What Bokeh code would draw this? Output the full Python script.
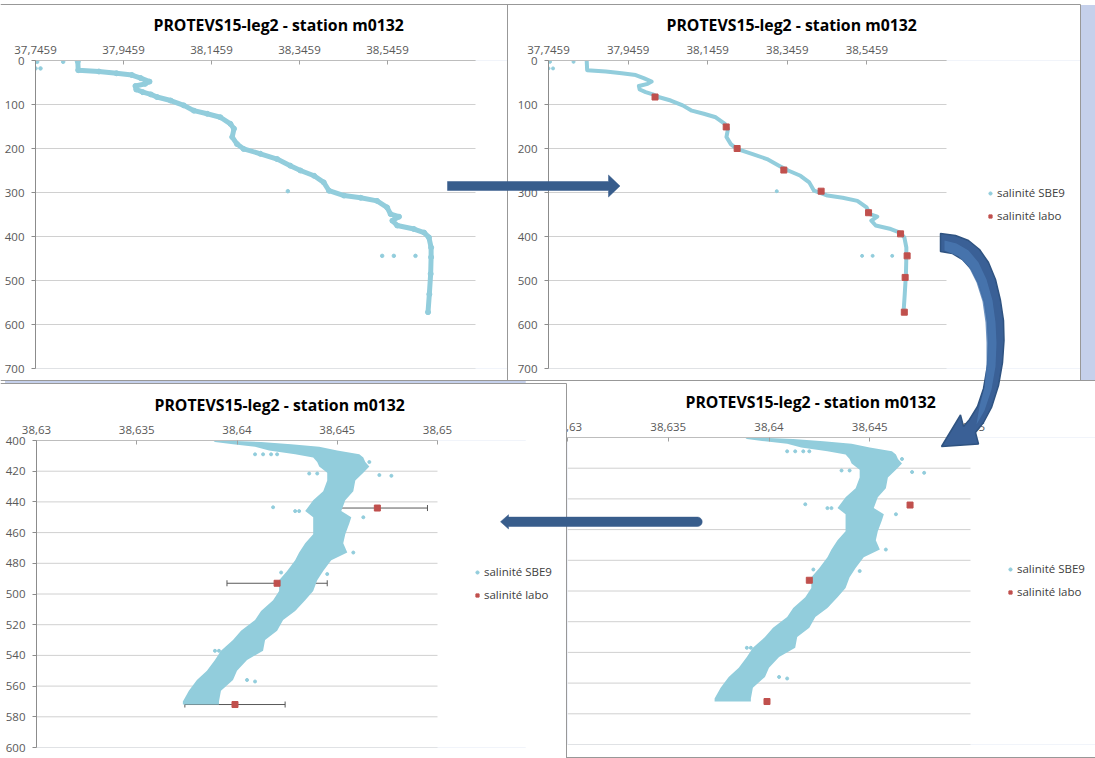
import numpy as np
from bokeh.plotting import figure
from bokeh.models import (Range1d, FixedTicker, CustomJSTickFormatter, Legend, LegendItem,
                          Whisker, TeeHead, ColumnDataSource, Div)
from bokeh.embed import file_html
from bokeh.resources import INLINE

# ------------------------------------------------------------------ data
TITLE = "PROTEVS15-leg2 - station m0132"
SBE9_LABEL = "salinité SBE9"
LABO_LABEL = "salinité labo"

# full CTD profile (top panels): depth (m) / salinity
PROFILE_DEPTH = [2, 22, 25, 29, 33, 40, 48, 53, 58, 66,
                 72, 77, 83, 91, 102, 114, 121, 129, 144, 155,
                 174, 190, 201, 212, 224, 239, 250, 262, 277, 296,
                 307, 312, 319, 334, 349, 355, 364, 375, 383, 391,
                 402, 425, 447, 485, 531, 572]
PROFILE_SAL = [37.842, 37.843, 37.890, 37.930, 37.965, 37.985, 38.005, 37.995, 37.973, 37.975,
               37.990, 38.008, 38.022, 38.053, 38.083, 38.106, 38.136, 38.166, 38.189, 38.197,
               38.193, 38.204, 38.219, 38.257, 38.295, 38.325, 38.348, 38.379, 38.401, 38.413,
               38.447, 38.485, 38.522, 38.545, 38.553, 38.572, 38.557, 38.568, 38.606, 38.629,
               38.640, 38.645, 38.645, 38.644, 38.641, 38.638]
PROFILE_OUT_DEPTH = [3, 3, 18, 18, 297, 444, 444, 444]
PROFILE_OUT_SAL = [37.7497, 37.8088, 37.7459, 37.7573, 38.3194, 38.5338, 38.5603, 38.6095]

# bottle (lab) salinities
LAB_DEPTH = [83, 151, 200, 249, 297, 346, 394, 444, 493, 572]
LAB_SAL = [38.0136, 38.1924, 38.2199, 38.3372, 38.4309, 38.5501, 38.6305, 38.6470, 38.6420, 38.6399]
LAB_ERR = [0.0025, 0.0025, 0.0025, 0.0025, 0.0025, 0.0025, 0.0025, 0.0025, 0.0025, 0.0025]

# zoomed 400-600 m: envelope of the dense SBE9 point cloud
CLOUD_DEPTH = [400, 401, 402.5, 404, 406.5, 409, 411, 414, 417, 421,
               426, 433, 439, 446, 450, 454, 461, 467, 473, 478,
               485, 491, 498, 504, 511, 517, 524, 530, 537, 543,
               550, 556, 563, 570, 572]
CLOUD_MIN = [38.6388, 38.6389, 38.6398, 38.6409, 38.6416, 38.6429, 38.6438, 38.6440, 38.6441, 38.6445,
             38.6445, 38.6443, 38.6438, 38.6434, 38.6438, 38.6438, 38.6438, 38.6434, 38.6431, 38.6429,
             38.6425, 38.6421, 38.6421, 38.6418, 38.6412, 38.6409, 38.6402, 38.6398, 38.6392, 38.6389,
             38.6385, 38.6380, 38.6376, 38.6373, 38.6373]
CLOUD_MAX = [38.6392, 38.6412, 38.6427, 38.6441, 38.6450, 38.6461, 38.6463, 38.6464, 38.6466, 38.6463,
             38.6459, 38.6458, 38.6454, 38.6452, 38.6457, 38.6456, 38.6454, 38.6453, 38.6455, 38.6447,
             38.6443, 38.6440, 38.6438, 38.6434, 38.6429, 38.6423, 38.6420, 38.6414, 38.6413, 38.6405,
             38.6400, 38.6398, 38.6392, 38.6391, 38.6391]
CLOUD_OUT_DEPTH = [443.5, 422.5, 423, 409, 409, 409, 409, 421.5, 421.5, 450,
                   486, 487, 494, 556, 557, 537, 537, 509, 473, 414, 446, 446]
CLOUD_OUT_SAL = [38.6418, 38.6471, 38.6477, 38.6409, 38.6413, 38.6417, 38.6420, 38.6436, 38.6440, 38.6463,
                 38.6422, 38.6445, 38.6436, 38.6405, 38.6409, 38.6389, 38.6391, 38.6429, 38.6458, 38.6466,
                 38.6429, 38.6431]

# axes
TOP_X_RANGE = (37.7459, 38.7459)
TOP_Y_RANGE = (700, 0)
TOP_X_TICKS = [37.7459, 37.9459, 38.1459, 38.3459, 38.5459]
TOP_X_LABELS = ["37,7459", "37,9459", "38,1459", "38,3459", "38,5459"]
TOP_Y_TICKS = [0, 100, 200, 300, 400, 500, 600, 700]
ZOOM_X_RANGE = (38.63, 38.65)
ZOOM_Y_RANGE = (600, 400)
ZOOM_X_TICKS = [38.63, 38.635, 38.64, 38.645, 38.65]
ZOOM_X_LABELS = ["38,63", "38,635", "38,64", "38,645", "38,65"]
ZOOM_Y_TICKS = [400, 420, 440, 460, 480, 500, 520, 540, 560, 580, 600]

# ------------------------------------------------------------------ style
SBE9_COLOR = "#92CDDC"
LABO_COLOR = "#C0504D"
LAVENDER = "#C5D0EB"
BORDER = "#989898"
GRID = "#D0D0D0"
ARROW = "#385D8C"
FONT = "Open Sans"

PAGE_W, PAGE_H = 1095, 758


def place(L, T, W, H):
    return {"position": "absolute", "left": f"{L}px", "top": f"{T}px",
            "width": f"{W}px", "height": f"{H}px"}


def tick_formatter(vals, labs):
    return CustomJSTickFormatter(args=dict(tvals=vals, tlabs=labs), code="""
        let best = 0, d = Infinity;
        for (let i = 0; i < tvals.length; i++) {
            const e = Math.abs(tvals[i] - tick);
            if (e < d) { d = e; best = i; }
        }
        return tlabs[best];
    """)


def panel(box, frame, xr, yr, xticks, xlabels, yticks, show_y=True):
    """Chart box (page px) with its plot area; the frame is stretched to the
    right edge of the box so that the legend can sit beside the plot area."""
    L, T, R, B = box
    fl, ft, fr, fb = frame
    W, H = R - L, B - T
    x_end = xr[1] + (R - fr) * (xr[1] - xr[0]) / (fr - fl)
    p = figure(width=W, height=H, output_backend="svg", toolbar_location=None,
               x_range=Range1d(xr[0], x_end), y_range=Range1d(*yr),
               x_axis_location="above", y_axis_location="left" if show_y else None,
               min_border_left=round(fl - L), min_border_right=0,
               min_border_top=round(ft - T), min_border_bottom=round(B - fb),
               background_fill_color="white", border_fill_color="white",
               outline_line_color=None, styles=place(L, T, W, H))
    p.title.text = TITLE
    p.title.align = "left"
    p.title.offset = 118
    p.title.text_font = FONT
    p.title.text_font_style = "bold"
    p.title.text_font_size = "15.8px"
    p.title.text_color = "#000000"
    p.title.standoff = 14

    xa = p.xaxis[0]
    xa.bounds = (xr[0], xr[1])
    xa.ticker = FixedTicker(ticks=xticks)
    xa.formatter = tick_formatter(xticks, xlabels)
    xa.major_tick_in = 4
    xa.major_tick_out = 0
    xa.minor_tick_line_color = None
    xa.axis_line_color = "#BDBDBD"
    xa.major_tick_line_color = "#A0A0A0"
    xa.major_label_standoff = 7
    xa.major_label_text_font = FONT
    xa.major_label_text_font_size = "11.5px"
    xa.major_label_text_color = "#595959"

    if show_y:
        ya = p.yaxis[0]
        ya.ticker = FixedTicker(ticks=yticks)
        ya.major_tick_in = 0
        ya.major_tick_out = 4
        ya.minor_tick_line_color = None
        ya.axis_line_color = "#8C8C8C"
        ya.major_tick_line_color = "#8C8C8C"
        ya.major_label_standoff = 7
        ya.major_label_text_font = FONT
        ya.major_label_text_font_size = "11.5px"
        ya.major_label_text_color = "#595959"

    p.grid.visible = False
    # horizontal gridlines limited to the plot area
    p.segment(x0=[xr[0]] * len(yticks), y0=yticks, x1=[xr[1]] * len(yticks), y1=yticks,
              line_color=GRID, line_width=1)
    return p


def add_legend(p, r_sbe, r_lab, xoff, yoff):
    # location measured from the plot area's lower-left corner
    lg = Legend(items=[LegendItem(label=SBE9_LABEL, renderers=[r_sbe]),
                       LegendItem(label=LABO_LABEL, renderers=[r_lab])],
                location=(round(xoff), round(yoff)), orientation="vertical",
                border_line_color=None, background_fill_alpha=0, padding=0, margin=0,
                spacing=8, glyph_width=8, glyph_height=12, label_height=12, label_standoff=3,
                label_text_font=FONT, label_text_font_size="11.5px", label_text_color="#404040")
    p.add_layout(lg)


deep = [i for i, d in enumerate(LAB_DEPTH) if d >= 400]
DEEP_DEPTH = [LAB_DEPTH[i] for i in deep]
DEEP_SAL = [LAB_SAL[i] for i in deep]

# ---------------- background
bg = Div(text="", width=PAGE_W, height=PAGE_H,
         styles=dict(place(0, 0, PAGE_W, PAGE_H), **{"background-color": LAVENDER}))

# ---------------- panel 1 (top-left): full profile
p1 = panel((0, 4, 507, 380), (35, 60, 475, 368), TOP_X_RANGE, TOP_Y_RANGE,
           TOP_X_TICKS, TOP_X_LABELS, TOP_Y_TICKS)
p1.line(PROFILE_SAL, PROFILE_DEPTH, line_width=5, color=SBE9_COLOR, line_join="round", line_cap="round")
p1.scatter(PROFILE_SAL, PROFILE_DEPTH, size=5, color=SBE9_COLOR)
p1.scatter(PROFILE_OUT_SAL, PROFILE_OUT_DEPTH, size=3.5, color=SBE9_COLOR)

# ---------------- panel 2 (top-right): profile + lab
p2 = panel((507, 4, 1080, 380), (548, 60, 946, 368), TOP_X_RANGE, TOP_Y_RANGE,
           TOP_X_TICKS, TOP_X_LABELS, TOP_Y_TICKS)
p2.line(PROFILE_SAL, PROFILE_DEPTH, line_width=4, color=SBE9_COLOR, line_join="round", line_cap="round")
r2s = p2.scatter(PROFILE_OUT_SAL, PROFILE_OUT_DEPTH, size=3, color=SBE9_COLOR)
r2l = p2.scatter(LAB_SAL, LAB_DEPTH, marker="square", size=6, color=LABO_COLOR)
add_legend(p2, r2s, r2l, 438, 145)

# ---------------- panel 3 (bottom-left): zoom with error bars
p3 = panel((0, 383, 566, 758), (36, 440, 437, 747), ZOOM_X_RANGE, ZOOM_Y_RANGE,
           ZOOM_X_TICKS, ZOOM_X_LABELS, ZOOM_Y_TICKS)
wsrc = ColumnDataSource(dict(base=DEEP_DEPTH,
                             lower=[LAB_SAL[i] - LAB_ERR[i] for i in deep],
                             upper=[LAB_SAL[i] + LAB_ERR[i] for i in deep]))
p3.add_layout(Whisker(source=wsrc, base="base", lower="lower", upper="upper", dimension="width",
                      line_color="#595959", line_width=1,
                      lower_head=TeeHead(size=6, line_color="#595959", line_width=1),
                      upper_head=TeeHead(size=6, line_color="#595959", line_width=1)))
p3.harea(x1=CLOUD_MIN, x2=CLOUD_MAX, y=CLOUD_DEPTH, fill_color=SBE9_COLOR)
r3s = p3.scatter(CLOUD_OUT_SAL, CLOUD_OUT_DEPTH, size=3, color=SBE9_COLOR)
r3l = p3.scatter(DEEP_SAL, DEEP_DEPTH, marker="square", size=6, color=LABO_COLOR)
add_legend(p3, r3s, r3l, 437, 145)

# ---------------- panel 4 (bottom-right): zoom, no error bars
p4 = panel((525, 380, 1095, 758), (567, 437, 970, 744), ZOOM_X_RANGE, ZOOM_Y_RANGE,
           ZOOM_X_TICKS, ZOOM_X_LABELS, ZOOM_Y_TICKS, show_y=False)
p4.harea(x1=CLOUD_MIN, x2=CLOUD_MAX, y=CLOUD_DEPTH, fill_color=SBE9_COLOR)
r4s = p4.scatter(CLOUD_OUT_SAL, CLOUD_OUT_DEPTH, size=3, color=SBE9_COLOR)
r4l = p4.scatter(DEEP_SAL, DEEP_DEPTH, marker="square", size=6, color=LABO_COLOR)
add_legend(p4, r4s, r4l, 439, 145)

# ---------------- overlay: panel frames and block arrows (page pixel space)
ov = figure(width=PAGE_W, height=PAGE_H, output_backend="svg", toolbar_location=None,
            x_range=Range1d(0, PAGE_W), y_range=Range1d(PAGE_H, 0),
            x_axis_location=None, y_axis_location=None, min_border=0,
            background_fill_color=None, border_fill_color=None, outline_line_color=None,
            styles=place(0, 0, PAGE_W, PAGE_H))
ov.grid.visible = False

FRAME_X0 = [0, 507, 1080, 0, 0, 566, 566]
FRAME_Y0 = [4, 4, 4, 380, 383, 383, 757]
FRAME_X1 = [1080, 507, 1080, 1095, 566, 566, 1095]
FRAME_Y1 = [4, 380, 380, 380, 383, 758, 757]
ov.segment(FRAME_X0, FRAME_Y0, FRAME_X1, FRAME_Y1, line_color=BORDER, line_width=1)

# straight arrow, top (pointing right)
ARROW_R_X = [447, 608, 608, 619.5, 608, 608, 447]
ARROW_R_Y = [181, 181, 174.5, 185.5, 196.5, 190, 190]
# straight arrow, bottom (pointing left) with rounded tail
th = np.linspace(np.pi / 2, -np.pi / 2, 13)
ARROW_L_X = [500, 508, 508] + list(697 + 4.7 * np.cos(th)) + [508, 508]
ARROW_L_Y = [521.3, 514.2, 516.6] + list(521.3 - 4.7 * np.sin(th)) + [526.0, 528.4]
# curved arrow from top-right panel to bottom-right panel
OUT_X = [940, 955, 968, 979, 988, 995, 1000, 1003, 1003.5, 1002, 998, 991, 983, 975]
OUT_Y = [233, 235, 240, 249, 262, 279, 300, 320, 340, 362, 385, 407, 422, 432]
IN_X = [940, 952, 962, 971, 978, 984, 987, 988, 987, 983, 977, 969, 963]
IN_Y = [251, 253, 259, 269, 283, 302, 322, 343, 365, 388, 406, 419, 426]
CURVE_X = OUT_X + [978, 941, 960] + IN_X[::-1]
CURVE_Y = OUT_Y + [443.5, 446, 414.5] + IN_Y[::-1]
# lighter inner face of the curved arrow
FACE_X = [944, 956, 968, 978, 986, 992, 995, 996, 995, 991, 984, 976, 979, 984, 986, 986, 985, 982, 976, 968, 958, 944]
FACE_Y = [240, 243, 250, 262, 279, 300, 322, 343, 366, 389, 410, 424, 406, 387, 364, 342, 322, 301, 282, 266, 256, 250]

ov.patches([ARROW_R_X, ARROW_L_X], [ARROW_R_Y, ARROW_L_Y], fill_color=ARROW, line_color=ARROW,
           line_width=0.5)
ov.patch(CURVE_X, CURVE_Y, fill_color="#3A6096", line_color="#2F5381", line_width=1.5)
ov.patch(FACE_X, FACE_Y, fill_color="#4A78B2", fill_alpha=0.8, line_color=None)

open("out.html", "w").write(file_html([bg, p1, p2, p4, p3, ov], INLINE))
